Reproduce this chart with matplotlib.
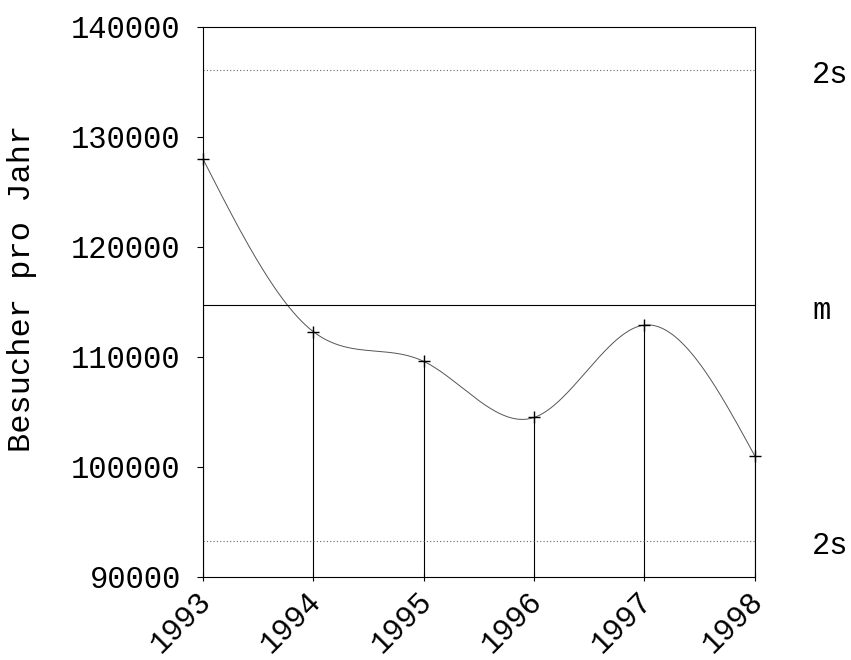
import matplotlib.pyplot as plt
import matplotlib.transforms as mtransforms
import numpy as np

years = [1993, 1994, 1995, 1996, 1997, 1998]
visitors = [128000, 112300, 109600, 104500, 112900, 101000]
mean_value = 114700
upper_2s = 136100
lower_2s = 93300

plt.rcParams['font.family'] = ['Liberation Mono', 'DejaVu Sans Mono']


def natural_spline(x, y, xs):
    # natural cubic spline through the points
    x = np.asarray(x, float)
    y = np.asarray(y, float)
    n = len(x)
    h = np.diff(x)
    A = np.zeros((n, n))
    b = np.zeros(n)
    A[0, 0] = A[-1, -1] = 1
    for i in range(1, n - 1):
        A[i, i - 1] = h[i - 1]
        A[i, i] = 2 * (h[i - 1] + h[i])
        A[i, i + 1] = h[i]
        b[i] = 6 * ((y[i + 1] - y[i]) / h[i] - (y[i] - y[i - 1]) / h[i - 1])
    M = np.linalg.solve(A, b)
    idx = np.clip(np.searchsorted(x, xs) - 1, 0, n - 2)
    t0 = x[idx]
    t1 = x[idx + 1]
    hh = t1 - t0
    return (M[idx] * (t1 - xs) ** 3 / (6 * hh) + M[idx + 1] * (xs - t0) ** 3 / (6 * hh)
            + (y[idx] / hh - M[idx] * hh / 6) * (t1 - xs)
            + (y[idx + 1] / hh - M[idx + 1] * hh / 6) * (xs - t0))


fig = plt.figure(figsize=(8.51, 6.6), dpi=100)
ax = fig.add_axes([0.2385, 0.1258, 0.6485, 0.8333])

xs = np.linspace(years[0], years[-1], 400)
ax.plot(xs, natural_spline(years, visitors, xs), color='#555555', lw=0.7)
ax.plot(years, visitors, '+', color='black', ms=9, mew=1.0, clip_on=False)
ax.vlines(years, 90000, visitors, color='black', lw=0.8)

ax.axhline(mean_value, color='black', lw=0.8)
ax.axhline(upper_2s, color='#666666', lw=0.8, ls=(0, (1, 2)))
ax.axhline(lower_2s, color='#666666', lw=0.8, ls=(0, (1, 2)))

ax.set_xlim(1993, 1998)
ax.set_ylim(90000, 140000)
ax.set_yticks(range(90000, 140001, 10000))
ax.set_xticks(years)
ax.set_xticklabels([str(y) for y in years], rotation=45, ha='right',
                   rotation_mode='anchor', fontsize=22)
ax.tick_params(axis='y', labelsize=22, length=4, width=0.8, direction='out', pad=12)
ax.tick_params(axis='x', length=6, width=0.8, direction='inout', pad=2)
for s in ax.spines.values():
    s.set_linewidth(0.8)

ax.set_ylabel('Besucher pro Jahr', fontsize=23)
ax.yaxis.set_label_coords(-0.30, 0.524)

for label, val in [('2s', upper_2s), ('m', mean_value), ('2s', lower_2s)]:
    ax.text(1998.52, val - 500, label, fontsize=22, ha='left', va='center',
            clip_on=False)

# nudge the slanted year labels a little left and down
fig.canvas.draw()
shift = mtransforms.ScaledTranslation(-0.07, -0.02, fig.dpi_scale_trans)
for tick in ax.xaxis.get_major_ticks():
    tick.label1.set_transform(tick.label1.get_transform() + shift)

fig.savefig('out.png', dpi=100)
